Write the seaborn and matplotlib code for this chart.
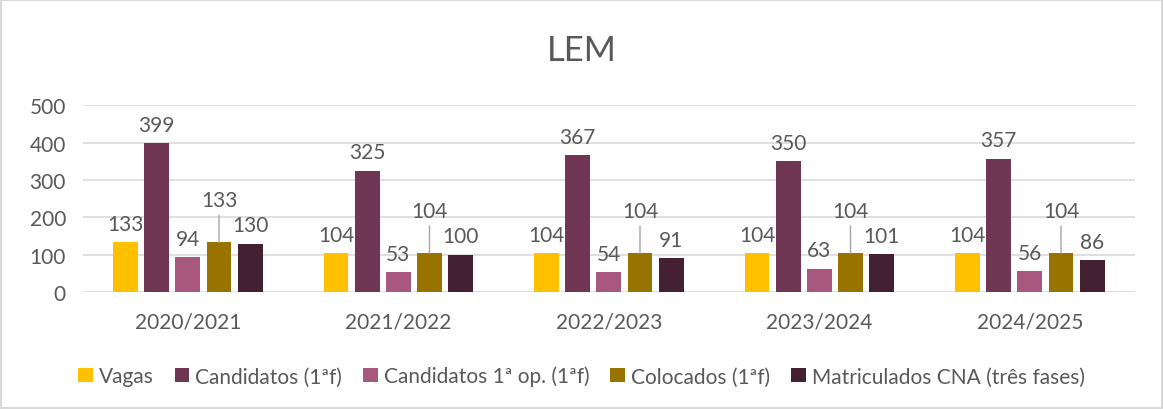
import pandas as pd
import matplotlib.pyplot as plt
import seaborn as sns

# data
anos = ["2020/2021", "2021/2022", "2022/2023", "2023/2024", "2024/2025"]
series = ["Vagas", "Candidatos (1ªf)", "Candidatos 1ª op. (1ªf)",
          "Colocados (1ªf)", "Matriculados CNA (três fases)"]
vagas = [133, 104, 104, 104, 104]
candidatos = [399, 325, 367, 350, 357]
candidatos_1op = [94, 53, 54, 63, 56]
colocados = [133, 104, 104, 104, 104]
matriculados = [130, 100, 91, 101, 86]
cores = ["#FFC000", "#6F3753", "#A8577E", "#997300", "#442132"]

valores = [vagas, candidatos, candidatos_1op, colocados, matriculados]
rows = []
for s, vals in zip(series, valores):
    for a, v in zip(anos, vals):
        rows.append({"Ano": a, "Serie": s, "Valor": v})
df = pd.DataFrame(rows)

sns.set_theme(style="white")
plt.rcParams["font.family"] = ["Lato", "DejaVu Sans"]
texto = "#595959"
fs = 15

fig = plt.figure(figsize=(11.63, 4.10), dpi=100)
fig.patch.set_edgecolor("#d9d9d9")
fig.patch.set_linewidth(1.5)
ax = fig.add_axes([0.071, 0.285, 0.905, 0.456])

sns.barplot(data=df, x="Ano", y="Valor", hue="Serie", hue_order=series,
            palette=cores, width=0.74, gap=0.2, saturation=1,
            edgecolor="none", ax=ax, legend=True)

ax.set_ylim(0, 500)
ax.set_yticks(range(0, 501, 100))
ax.yaxis.grid(True, color="#d9d9d9", linewidth=1.2)
ax.set_axisbelow(True)
for sp in ax.spines.values():
    sp.set_visible(False)
ax.set_xlabel("")
ax.set_ylabel("")
ax.tick_params(axis="both", length=0, labelsize=fs, labelcolor=texto)
ax.tick_params(axis="x", pad=14)
ax.tick_params(axis="y", pad=12)

# data labels
for i, cont in enumerate(ax.containers):
    for bar, v in zip(cont, valores[i]):
        x = bar.get_x() + bar.get_width() / 2
        y = bar.get_height()
        if series[i] == "Colocados (1ªf)":
            ax.annotate(str(v), (x, y), xytext=(0, 23), textcoords="offset points",
                        ha="center", va="bottom", fontsize=fs, color=texto,
                        arrowprops=dict(arrowstyle="-", color="#a6a6a6", lw=1,
                                        shrinkA=1, shrinkB=0))
        else:
            ax.annotate(str(v), (x, y), xytext=(0, 6), textcoords="offset points",
                        ha="center", va="bottom", fontsize=fs, color=texto)

handles, labels = ax.get_legend_handles_labels()
ax.legend(handles, labels, loc="center", bbox_to_anchor=(0.5, 0.08),
          bbox_transform=fig.transFigure, ncol=5, frameon=False,
          handlelength=0.7, handleheight=0.7, handletextpad=0.3,
          columnspacing=1.0, fontsize=fs, labelcolor=texto)

fig.text(0.5, 0.875, "LEM", ha="center", va="center", fontsize=25, color=texto)

fig.savefig("out.png", dpi=100)
